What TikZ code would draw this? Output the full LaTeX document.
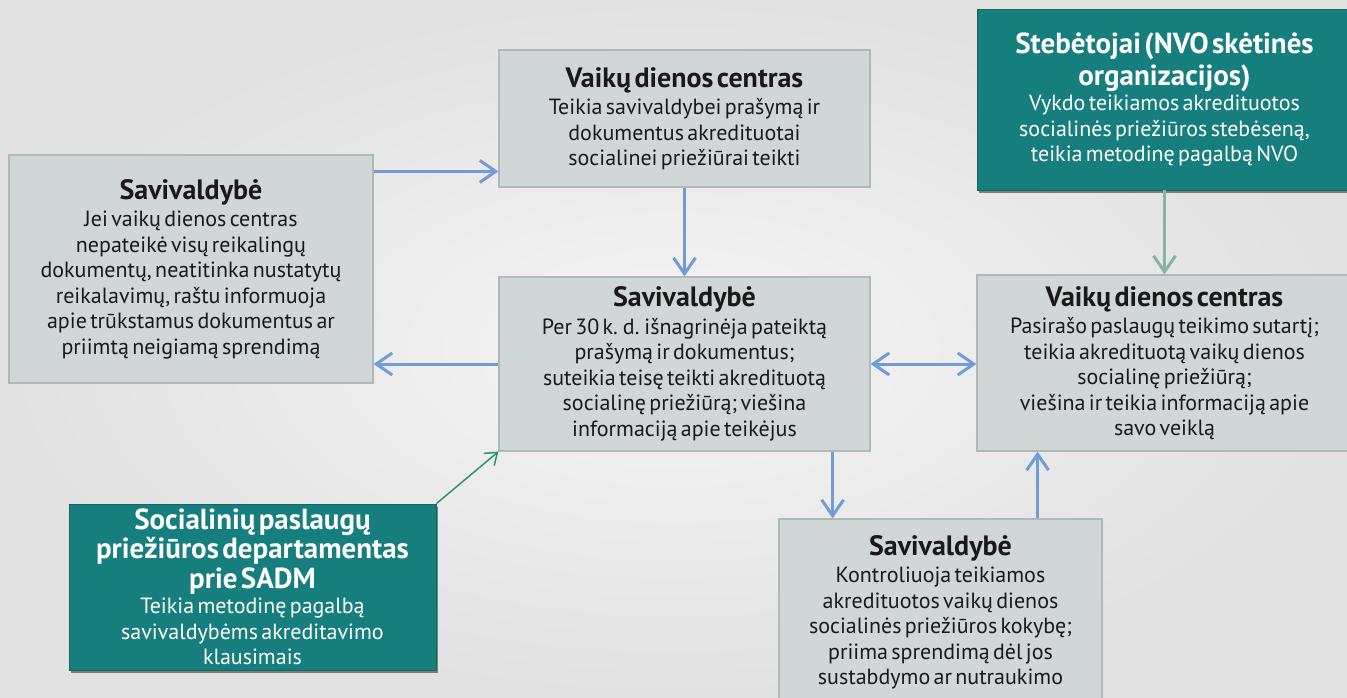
\documentclass[tikz,border=0pt]{standalone}
\usepackage{fontspec}
\setmainfont[WordSpace=1.5]{PT Sans}
\usetikzlibrary{arrows.meta,shadows,calc}
\definecolor{bgin}{HTML}{F5F5F5}
\definecolor{bgout}{HTML}{E2E2E2}
\definecolor{gfill}{HTML}{D1D7D7}
\definecolor{gline}{HTML}{AEBAB7}
\definecolor{teal}{HTML}{167F7E}
\definecolor{arrblue}{HTML}{729BD9}
\definecolor{arrgreen}{HTML}{2A9470}
\definecolor{arrsage}{HTML}{86B5A3}
\newcommand\myhead{\fontsize{28}{32}\selectfont\bfseries}
\newcommand\mybody{\fontsize{22}{25.5}\selectfont\mdseries}
\newcommand\hgap{\par\vspace{2pt}}
\tikzset{
  gbox/.style={draw=gline, line width=1.2pt, fill=gfill, align=center, inner sep=0pt, text=black!90},
  tbox/.style={draw=teal!80!black, line width=0.8pt, fill=teal, align=center, inner sep=0pt, text=white,
    drop shadow={shadow xshift=2pt, shadow yshift=-3pt, opacity=0.45, fill=black}},
  arr/.style={draw=arrblue, line width=3pt, -{Straight Barb[length=16pt,width=22pt,line width=3pt]}},
  arrboth/.style={draw=arrblue, line width=3pt, {Straight Barb[length=16pt,width=22pt,line width=3pt]}-{Straight Barb[length=16pt,width=22pt,line width=3pt]}},
  arrsg/.style={draw=arrsage, line width=3pt, -{Straight Barb[length=16pt,width=22pt,line width=3pt]}},
  arrgr/.style={draw=arrgreen, line width=1.5pt, -{Straight Barb[length=11pt,width=16pt,line width=1.5pt]}}
}
\begin{document}
\begin{tikzpicture}[x=1pt,y=-1pt]
\clip (0,0) rectangle (1347,698);
\path[shading=radial, inner color=bgin, outer color=bgout] (0,0) rectangle (1347,698);

\node[gbox, minimum width=364pt, minimum height=228pt, text width=356pt] (L) at (191,269)
 {\myhead Savivaldybė\hgap\mybody Jei vaikų dienos centras\\ nepateikė visų reikalingų\\ dokumentų, neatitinka nustatytų\\ reikalavimų, raštu informuoja\\ apie trūkstamus dokumentus ar\\ priimtą neigiamą sprendimą\par};

\node[gbox, minimum width=371pt, minimum height=137pt, text width=363pt] (T) at (684.5,118.5)
 {\myhead Vaikų dienos centras\hgap\mybody Teikia savivaldybei prašymą ir\\ dokumentus akredituotai\\ socialinei priežiūrai teikti\par};

\node[gbox, minimum width=371pt, minimum height=174pt, text width=363pt] (M) at (684.5,364)
 {\myhead Savivaldybė\hgap\mybody Per 30 k. d. išnagrinėja pateiktą\\ prašymą ir dokumentus;\\ suteikia teisę teikti akredituotą\\ socialinę priežiūrą; viešina\\ informaciją apie teikėjus\par};

\node[tbox, minimum width=375pt, minimum height=181pt, text width=367pt] (S) at (1164.5,99.5)
 {\fontsize{29}{32}\selectfont\bfseries Stebėtojai (NVO skėtinės\\ organizacijos)\par\mybody Vykdo teikiamos akredituotos\\ socialinės priežiūros stebėseną,\\ teikia metodinę pagalbą NVO\par};

\node[gbox, minimum width=375pt, minimum height=176pt, text width=367pt] (R) at (1164.5,363)
 {\myhead Vaikų dienos centras\hgap\mybody Pasirašo paslaugų teikimo sutartį;\\ teikia akredituotą vaikų dienos\\ socialinę priežiūrą;\\ viešina ir teikia informaciją apie\\ savo veiklą\par};

\node[tbox, minimum width=367pt, minimum height=166pt, text width=359pt] (D) at (252.5,587)
 {\fontsize{29}{29.5}\selectfont\bfseries Socialinių paslaugų\\ priežiūros departamentas\\ prie SADM\par\mybody Teikia metodinę pagalbą\\ savivaldybėms akreditavimo\\ klausimais\par};

\node[gbox, minimum width=323pt, minimum height=187pt, text width=315pt] (B) at (940.5,612.5)
 {\myhead Savivaldybė\hgap\mybody Kontroliuoja teikiamos\\ akredituotos vaikų dienos\\ socialinės priežiūros kokybę;\\ priima sprendimą dėl jos\\ sustabdymo ar nutraukimo\par};

\draw[arr] ([yshift=-17pt]L.north east) coordinate (a1) -- (a1 -| T.west);
\draw[arr] (T.south) -- (M.north);
\draw[arr] (M.west) -- (M.west -| L.east);
\draw[arrboth] (M.east) -- (M.east -| R.west);
\draw[arr] ([xshift=-38pt]M.south east) coordinate (a2) -- (a2 |- B.north);
\draw[arr] ([xshift=-65pt]B.north east) coordinate (a3) -- (a3 |- R.south);
\draw[arrsg] (S.south) -- (R.north);
\draw[arrgr] (D.north east) -- (M.south west);
\end{tikzpicture}
\end{document}
